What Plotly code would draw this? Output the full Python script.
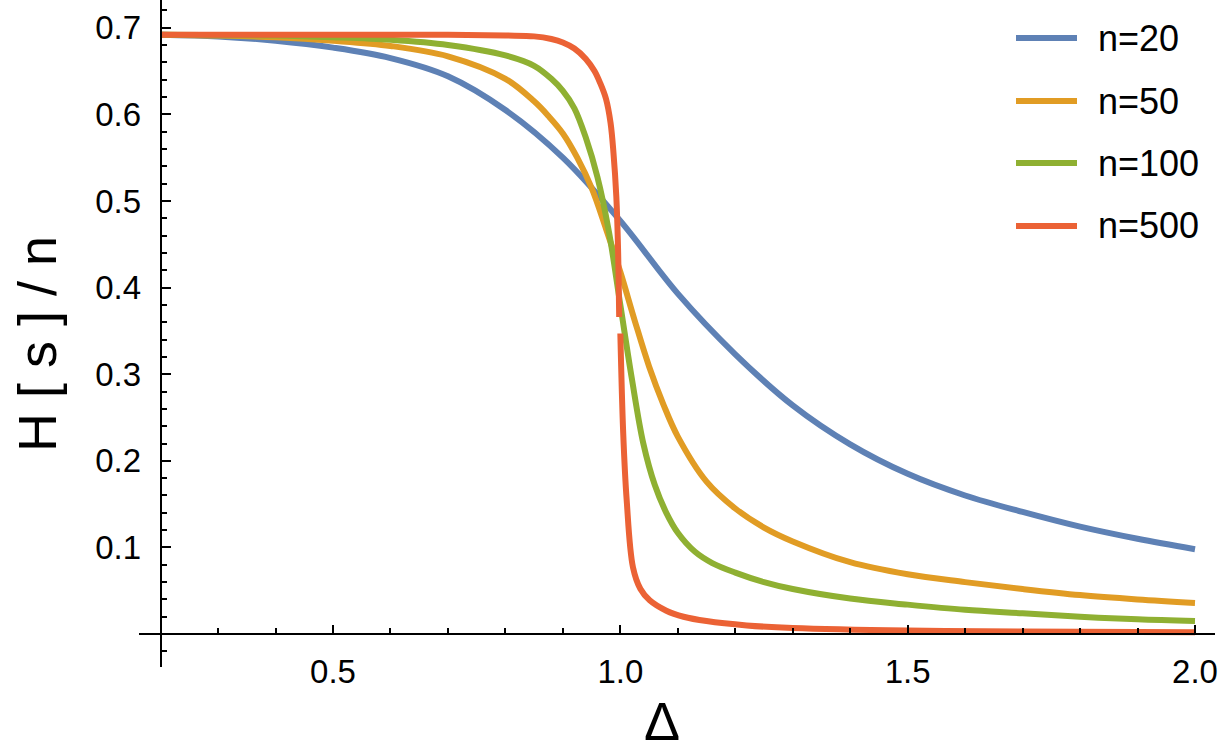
import plotly.graph_objects as go

# ---- data ----
x_n20 = [0.2, 0.3, 0.4, 0.5, 0.6, 0.7, 0.8, 0.9, 1.0, 1.1, 1.2, 1.3, 1.4, 1.5, 1.6, 1.7, 1.8, 1.9, 2.0]
y_n20 = [0.692, 0.690, 0.685, 0.677, 0.665, 0.644, 0.605, 0.550, 0.477, 0.393, 0.323, 0.264, 0.219,
         0.185, 0.160, 0.141, 0.124, 0.110, 0.098]

x_n50 = [0.2, 0.3, 0.4, 0.5, 0.6, 0.7, 0.8, 0.85, 0.875, 0.9, 0.925, 0.95, 0.975, 1.0, 1.025, 1.05,
         1.075, 1.1, 1.15, 1.2, 1.25, 1.3, 1.4, 1.5, 1.6, 1.7, 1.8, 1.9, 2.0]
y_n50 = [0.692, 0.691, 0.689, 0.685, 0.679, 0.667, 0.641, 0.615, 0.598, 0.578, 0.550, 0.515, 0.468,
         0.418, 0.362, 0.309, 0.265, 0.228, 0.176, 0.145, 0.123, 0.107, 0.083, 0.069, 0.060, 0.052,
         0.045, 0.040, 0.036]

x_n100 = [0.2, 0.4, 0.5, 0.6, 0.7, 0.8, 0.85, 0.88, 0.9, 0.92, 0.94, 0.96, 0.98, 1.0, 1.02, 1.04,
          1.06, 1.08, 1.1, 1.13, 1.16, 1.2, 1.25, 1.3, 1.4, 1.5, 1.6, 1.7, 1.8, 1.9, 2.0]
y_n100 = [0.692, 0.691, 0.689, 0.686, 0.680, 0.668, 0.656, 0.641, 0.627, 0.607, 0.573, 0.528, 0.465,
          0.380, 0.295, 0.220, 0.172, 0.140, 0.117, 0.095, 0.082, 0.071, 0.060, 0.052, 0.041, 0.034,
          0.028, 0.024, 0.020, 0.017, 0.015]

x_n500 = [0.2, 0.5, 0.7, 0.8, 0.85, 0.88, 0.9, 0.92, 0.94, 0.955, 0.965, 0.975, 0.983, 0.988, 0.993,
          0.996, 0.998, None, 1.0, 1.005, 1.011, 1.022, 1.035, 1.051, 1.08, 1.11, 1.15, 1.22, 1.3,
          1.5, 1.7, 2.0]
y_n500 = [0.692, 0.692, 0.692, 0.691, 0.690, 0.687, 0.683, 0.676, 0.664, 0.650, 0.636, 0.618, 0.590,
          0.556, 0.505, 0.445, 0.366, None, 0.347, 0.232, 0.155, 0.077, 0.052, 0.039, 0.027, 0.020,
          0.015, 0.010, 0.007, 0.004, 0.003, 0.002]

series_names = ["n=20", "n=50", "n=100", "n=500"]
series_x = [x_n20, x_n50, x_n100, x_n500]
series_y = [y_n20, y_n50, y_n100, y_n500]
colors = ["#5E81B5", "#E19C24", "#8FB032", "#EB6235"]

x_tickvals = [0.5, 1.0, 1.5, 2.0]
x_ticktext = ["0.5", "1.0", "1.5", "2.0"]
y_tickvals = [0.1, 0.2, 0.3, 0.4, 0.5, 0.6, 0.7]

FONT = "Liberation Sans, Arial, sans-serif"

# ---- geometry (pixels) ----
W, H = 1226, 750
L, R, T, B = 139, 11, 0, 83
pw, ph = W - L - R, H - T - B
x_range = [0.1624, 2.0348]
y_range = [-0.038, 0.732]

def px_to_paper_x(px):
    return (px - L) / pw

def py_to_paper_y(py):
    return (H - B - py) / ph

fig = go.Figure()
for name, xs, ys, c in zip(series_names, series_x, series_y, colors):
    fig.add_trace(go.Scatter(x=xs, y=ys, mode="lines", name=name,
                             line=dict(color=c, width=6, shape="spline", smoothing=1.0),
                             connectgaps=False, showlegend=False))

# axes cross at (0.2, 0)
ypos = (0.2 - x_range[0]) / (x_range[1] - x_range[0])
xpos = (0 - y_range[0]) / (y_range[1] - y_range[0])

fig.update_layout(
    width=W, height=H,
    margin=dict(l=L, r=R, t=T, b=B, pad=0),
    paper_bgcolor="white", plot_bgcolor="white",
    font=dict(family=FONT, color="black"),
    xaxis=dict(range=x_range, showgrid=False, zeroline=False, showline=True,
               linecolor="black", linewidth=2, anchor="free", position=xpos,
               tickmode="array", tickvals=x_tickvals, ticktext=x_ticktext,
               ticks="inside", ticklen=8, tickwidth=2, tickcolor="black",
               ticklabelstandoff=8,
               tickfont=dict(size=33, family=FONT, color="black"),
               minor=dict(tickmode="array",
                          tickvals=[0.2, 0.3, 0.4, 0.6, 0.7, 0.8, 0.9, 1.1, 1.2, 1.3, 1.4, 1.6, 1.7, 1.8, 1.9],
                          ticks="inside", ticklen=5, tickwidth=1.5, tickcolor="black", showgrid=False)),
    yaxis=dict(range=y_range, showgrid=False, zeroline=False, showline=True,
               linecolor="black", linewidth=2, anchor="free", position=ypos,
               tickmode="array", tickvals=[0.0] + y_tickvals,
               ticktext=[""] + [f"{v:.1f}" for v in y_tickvals],
               ticks="inside", ticklen=9, tickwidth=2, tickcolor="black",
               ticklabelstandoff=12,
               tickfont=dict(size=33, family=FONT, color="black"),
               minor=dict(dtick=0.02, tick0=0, ticks="inside", ticklen=5, tickwidth=1.5,
                          tickcolor="black", showgrid=False)),
)

# axis titles
fig.add_annotation(text="H [ s ] / n", xref="paper", yref="paper",
                   x=px_to_paper_x(37), y=py_to_paper_y(344), textangle=-90,
                   showarrow=False, xanchor="center", yanchor="middle",
                   font=dict(size=54, family=FONT, color="black"))
fig.add_annotation(text="Δ", xref="paper", yref="paper",
                   x=px_to_paper_x(662), y=py_to_paper_y(721),
                   showarrow=False, xanchor="center", yanchor="middle",
                   font=dict(size=54, family=FONT, color="black"))

# legend (drawn manually to match the long swatches)
leg_y = [38, 101, 163, 226]
for name, c, yy in zip(series_names, colors, leg_y):
    fig.add_shape(type="line", xref="paper", yref="paper",
                  x0=px_to_paper_x(1016), x1=px_to_paper_x(1077),
                  y0=py_to_paper_y(yy), y1=py_to_paper_y(yy),
                  line=dict(color=c, width=6))
    fig.add_annotation(text=name, xref="paper", yref="paper",
                       x=px_to_paper_x(1096), y=py_to_paper_y(yy),
                       showarrow=False, xanchor="left", yanchor="middle",
                       font=dict(size=36, family=FONT, color="black"))

fig.write_html("out.html")
